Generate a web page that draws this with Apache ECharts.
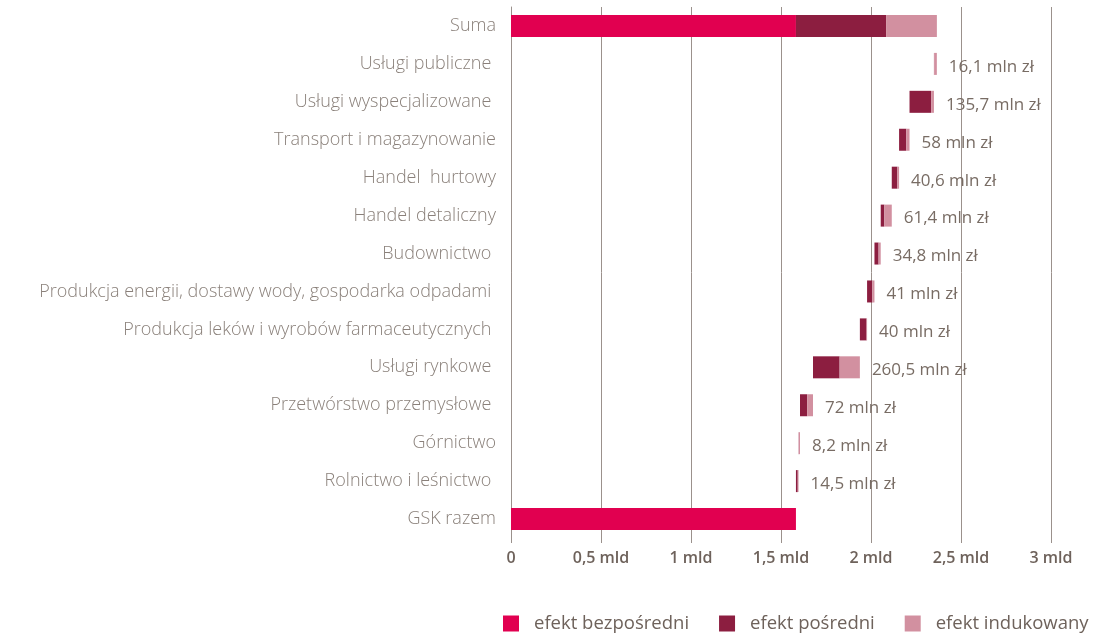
<!DOCTYPE html>
<html>
<head>
<meta charset="utf-8">
<script src="https://cdn.jsdelivr.net/npm/echarts@6/dist/echarts.min.js"></script>
<style>
  html, body { margin: 0; padding: 0; background: #fff; }
  #chart { width: 1093px; height: 635px; }
</style>
</head>
<body>
<div id="chart"></div>
<script>
// kategorie od dołu do góry (mln zł)
const categories = [
  'GSK razem',
  'Rolnictwo i leśnictwo ',
  'Górnictwo',
  'Przetwórstwo przemysłowe ',
  'Usługi rynkowe ',
  'Produkcja leków i wyrobów farmaceutycznych ',
  'Produkcja energii, dostawy wody, gospodarka odpadami ',
  'Budownictwo ',
  'Handel detaliczny',
  'Handel  hurtowy',
  'Transport i magazynowanie',
  'Usługi wyspecjalizowane ',
  'Usługi publiczne ',
  'Suma'
]
const directVals = [1583, '-', '-', '-', '-', '-', '-', '-', '-', '-', '-', '-', '-', 1583]
const indirectVals = ['-', 10, 1, 40, 148, 37, 29, 23, 20, 31, 40, 120, 1, 501]
const inducedVals = ['-', 4.5, 7.2, 32, 112.5, 3, 12, 11.8, 41.4, 9.6, 18, 15.7, 15.1, 282]
const totalLabels = ['', '14,5', '8,2', '72', '260,5', '40', '41', '34,8', '61,4', '40,6', '58', '135,7', '16,1', '']
const xTicks = { 0: '0', 500: '0,5 mld', 1000: '1 mld', 1500: '1,5 mld', 2000: '2 mld', 2500: '2,5 mld', 3000: '3 mld' }

const colors = ['#e10050', '#8c1e40', '#d290a0']

// niewidoczna podstawa wodospadu
const num = v => (v === '-' ? 0 : v)
const baseVals = []
let run = 0
categories.forEach((c, i) => {
  if (i === 0 || i === categories.length - 1) {
    baseVals.push(0)
    if (i === 0) run = num(directVals[0])
  } else {
    baseVals.push(run)
    run += num(indirectVals[i]) + num(inducedVals[i])
  }
})

const chart = echarts.init(document.getElementById('chart'))
const font = '"Open Sans", "Noto Sans", sans-serif'
const option = {
  animation: false,
  textStyle: { fontFamily: font },
  grid: { left: 511, right: 42, top: 7, bottom: 97, containLabel: false },
  legend: {
    data: ['efekt bezpośredni', 'efekt pośredni', 'efekt indukowany'],
    left: 503,
    top: 614,
    padding: 0,
    icon: 'rect',
    itemWidth: 16,
    itemHeight: 16,
    itemGap: 30,
    textStyle: { color: '#6e625b', fontSize: 18.5, fontWeight: 500, fontFamily: font, padding: [0, 0, 0, 10] }
  },
  xAxis: {
    type: 'value',
    min: 0,
    max: 3000,
    interval: 500,
    axisLine: { show: false },
    axisTick: { show: true, length: 5, lineStyle: { color: '#9b918c' } },
    splitLine: { lineStyle: { color: '#9b918c', width: 1 } },
    axisLabel: {
      color: '#6e625b',
      fontSize: 16,
      fontWeight: 600,
      margin: 12,
      formatter: v => xTicks[v] ?? ''
    }
  },
  yAxis: {
    type: 'category',
    data: categories,
    axisLine: { show: true, lineStyle: { color: '#9b918c' } },
    axisTick: { show: false },
    axisLabel: { color: '#8a807a', fontSize: 18, fontWeight: 300, margin: 15 }
  },
  series: [
    {
      name: 'base',
      type: 'bar',
      stack: 'w',
      barWidth: 22,
      itemStyle: { color: 'transparent' },
      silent: true,
      data: baseVals
    },
    {
      name: 'efekt bezpośredni',
      type: 'bar',
      stack: 'w',
      barWidth: 22,
      itemStyle: { color: colors[0] },
      data: directVals
    },
    {
      name: 'efekt pośredni',
      type: 'bar',
      stack: 'w',
      barWidth: 22,
      itemStyle: { color: colors[1] },
      data: indirectVals
    },
    {
      name: 'efekt indukowany',
      type: 'bar',
      stack: 'w',
      barWidth: 22,
      itemStyle: { color: colors[2] },
      label: {
        show: true,
        position: 'right',
        distance: 12,
        offset: [0, 3],
        color: '#786c64',
        fontSize: 17,
        fontFamily: font,
        formatter: p => (totalLabels[p.dataIndex] ? totalLabels[p.dataIndex] + ' mln zł' : '')
      },
      data: inducedVals
    }
  ]
}
chart.setOption(option)
</script>
</body>
</html>
